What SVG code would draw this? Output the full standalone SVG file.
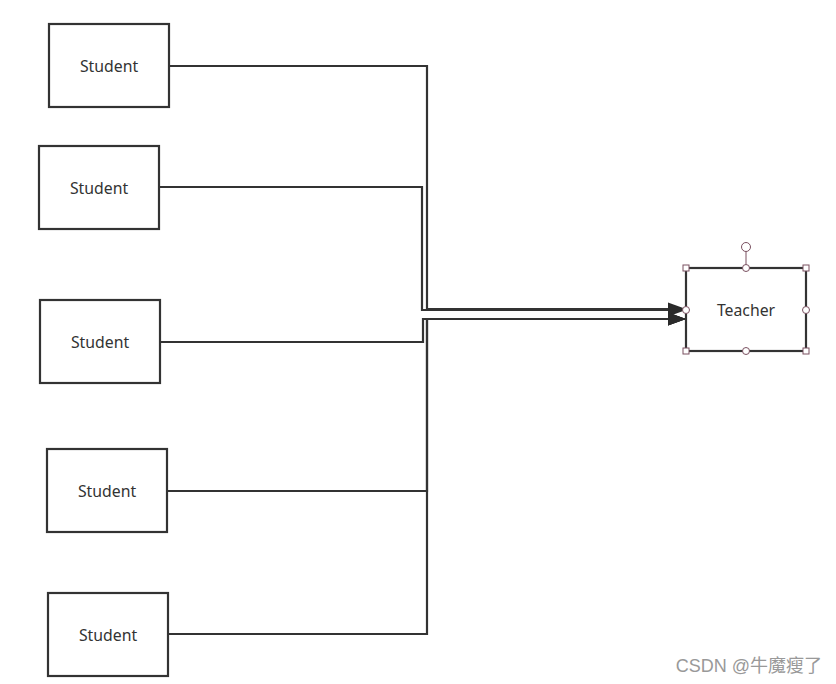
<svg xmlns="http://www.w3.org/2000/svg" width="836" height="684" viewBox="0 0 836 684">
<style>
.box{fill:#fff;stroke:#333;stroke-width:2.2}
.lbl{font-family:"Noto Sans","Open Sans",sans-serif;font-size:15.8px;fill:#333;text-anchor:middle;dominant-baseline:central}
.c{fill:none;stroke:#333;stroke-width:2.2}
.h{fill:#fff;stroke:#7a5060;stroke-width:1}
</style>
<defs>
<marker id="ah" markerWidth="20" markerHeight="14" refX="18" refY="7" orient="auto" markerUnits="userSpaceOnUse">
<path d="M0,0.5 L18,7 L0,13.5 Z" fill="#2a2a2a"/>
</marker>
</defs>
<rect width="836" height="684" fill="#fff"/>
<g id="connectors">
<path class="c" d="M169,66 H427 V309 H686" marker-end="url(#ah)"/>
<path class="c" d="M159,187 H422 V310 H686" marker-end="url(#ah)"/>
<path class="c" d="M160,342 H423 V319 H686" marker-end="url(#ah)"/>
<path class="c" d="M167,491 H427 V319 H686" marker-end="url(#ah)"/>
<path class="c" d="M168,634 H427 V319 H686" marker-end="url(#ah)"/>
</g>
<g id="student1"><rect class="box" x="49" y="24" width="120" height="83"/><text class="lbl" x="109" y="66">Student</text></g>
<g id="student2"><rect class="box" x="39" y="146" width="120" height="83"/><text class="lbl" x="99" y="188">Student</text></g>
<g id="student3"><rect class="box" x="40" y="300" width="120" height="83"/><text class="lbl" x="100" y="342">Student</text></g>
<g id="student4"><rect class="box" x="47" y="449" width="120" height="83"/><text class="lbl" x="107" y="491">Student</text></g>
<g id="student5"><rect class="box" x="48" y="593" width="120" height="83"/><text class="lbl" x="108" y="635">Student</text></g>
<g id="teacher">
<rect class="box" x="686" y="268" width="120" height="83"/>
<text class="lbl" x="746" y="310">Teacher</text>
<line x1="746" y1="251" x2="746" y2="268" stroke="#7a5060" stroke-width="1"/>
<circle class="h" cx="746" cy="247" r="4.5"/>
<rect class="h" x="683" y="265" width="6" height="6"/>
<rect class="h" x="803" y="265" width="6" height="6"/>
<rect class="h" x="683" y="348" width="6" height="6"/>
<rect class="h" x="803" y="348" width="6" height="6"/>
<circle class="h" cx="746" cy="268" r="3.5"/>
<circle class="h" cx="746" cy="351" r="3.5"/>
<circle class="h" cx="686" cy="310" r="3.5"/>
<circle class="h" cx="806" cy="310" r="3.5"/>
</g>
<text x="822" y="672" font-family="Liberation Sans,'Noto Sans CJK SC',sans-serif" font-size="18" fill="#999" text-anchor="end">CSDN @牛魔瘦了</text>
</svg>
